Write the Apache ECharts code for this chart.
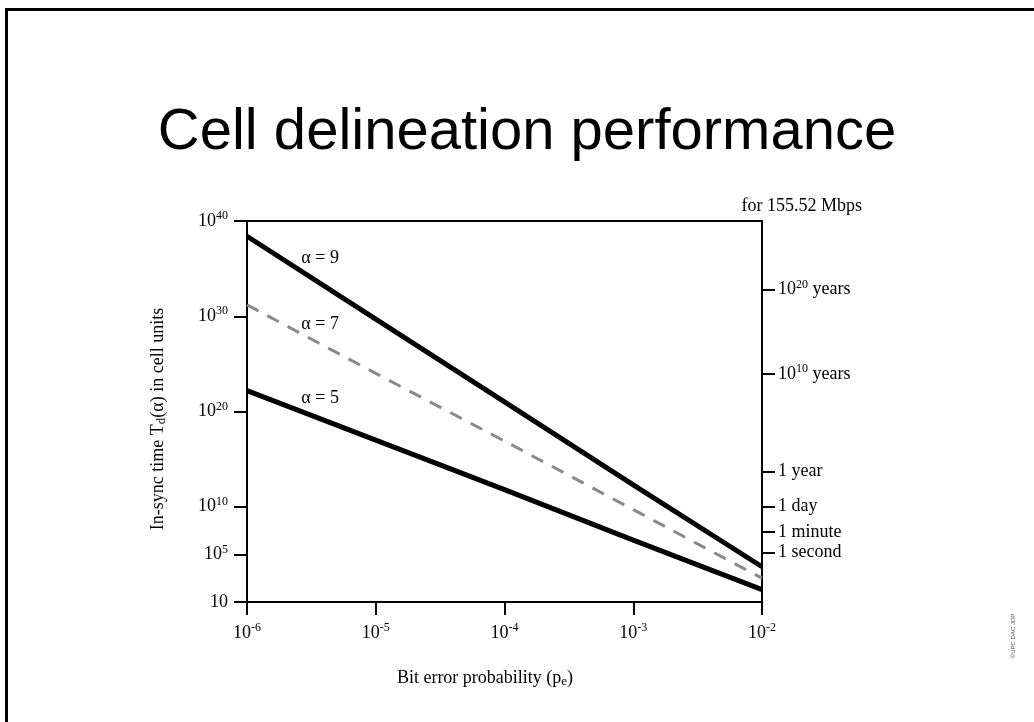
<!DOCTYPE html>
<html>
<head>
<meta charset="utf-8">
<script src="https://cdn.jsdelivr.net/npm/echarts@6/dist/echarts.min.js"></script>
<style>
html,body{margin:0;padding:0;background:#fff;}
#chart{width:1034px;height:722px;}
</style>
</head>
<body>
<div id="chart"></div>
<script>
// ---- data ----
const peValues = [1e-6, 1e-5, 1e-4, 1e-3, 1e-2];
// log10 of in-sync time (cell units)
const alpha9Log = [38.4, 29.7, 21.0, 12.3, 3.7];
const alpha7Log = [31.2, 24.0, 16.9, 9.7, 2.5];
const alpha5Log = [22.2, 17.0, 11.8, 6.5, 1.3];
const seriesNames = ['α = 9', 'α = 7', 'α = 5'];
const labelAnchors = [[3.7e-6, 36.05], [3.7e-6, 29.2], [3.7e-6, 21.35]];
const leftTickExps = [0, 5, 10, 20, 30, 40];
const leftTickLabels = ['10', '10^5', '10^10', '10^20', '10^30', '10^40'];
const rightTickExps = [32.8, 23.95, 13.7, 10.0, 7.35, 5.2];
const rightTickLabels = ['10^20 years', '10^10 years', '1 year', '1 day', '1 minute', '1 second'];

const SERIF = 'Liberation Serif, Times New Roman, serif';
const STEP = 0.05;
const catData = [];
for (let i = 0; i <= 800; i++) catData.push((i * STEP).toFixed(2));

function findIdx(list, v) {
  const x = parseFloat(v);
  for (let i = 0; i < list.length; i++) if (Math.abs(list[i] - x) < STEP / 2) return i;
  return -1;
}
function toRich(s) {
  const m = s.match(/^(\d+)\^(-?\d+)(.*)$/);
  if (!m) return '{b|' + s + '}';
  return '{b|' + m[1] + '}{sup|' + m[2] + '}' + (m[3] ? '{b|' + m[3] + '}' : '');
}
const richStyles = {
  b: {fontFamily: SERIF, fontSize: 18, color: '#000'},
  sup: {fontFamily: SERIF, fontSize: 12, color: '#000', padding: [0, 0, 10, 0]}
};

const chart = echarts.init(document.getElementById('chart'), null, {renderer: 'canvas'});

const lineStyles = [
  {color: '#000', width: 5, type: 'solid'},
  {color: '#8a8a8a', width: 3, type: [13, 10]},
  {color: '#000', width: 5, type: 'solid'}
];
const logs = [alpha9Log, alpha7Log, alpha5Log];

const option = {
  backgroundColor: '#fff',
  animation: false,
  grid: {left: 247, right: 272, top: 221, bottom: 120, show: true, borderColor: '#000', borderWidth: 2, backgroundColor: 'transparent'},
  xAxis: {
    type: 'log', logBase: 10, min: 1e-6, max: 1e-2,
    axisLine: {lineStyle: {color: '#000', width: 2}},
    axisTick: {length: 13, lineStyle: {color: '#000', width: 2}},
    splitLine: {show: false},
    minorTick: {show: false},
    axisLabel: {
      margin: 20,
      formatter: function (v) { return toRich('10^' + Math.round(Math.log10(v))); },
      rich: richStyles
    }
  },
  yAxis: [
    {
      type: 'category', position: 'left', data: catData, boundaryGap: false,
      axisLine: {lineStyle: {color: '#000', width: 2}},
      axisTick: {length: 13, lineStyle: {color: '#000', width: 2},
        interval: function (i, v) { return findIdx(leftTickExps, v) >= 0; }},
      axisLabel: {
        margin: 19,
        interval: function (i, v) { return findIdx(leftTickExps, v) >= 0; },
        formatter: function (v) { const k = findIdx(leftTickExps, v); return k >= 0 ? toRich(leftTickLabels[k]) : ''; },
        rich: richStyles
      },
      splitLine: {show: false}
    },
    {
      type: 'category', position: 'right', data: catData, boundaryGap: false,
      axisLine: {lineStyle: {color: '#000', width: 2}},
      axisTick: {length: 13, lineStyle: {color: '#000', width: 2},
        interval: function (i, v) { return findIdx(rightTickExps, v) >= 0; }},
      axisLabel: {
        margin: 16,
        interval: function (i, v) { return findIdx(rightTickExps, v) >= 0; },
        formatter: function (v) { const k = findIdx(rightTickExps, v); return k >= 0 ? toRich(rightTickLabels[k]) : ''; },
        rich: richStyles
      },
      splitLine: {show: false}
    },
    {type: 'value', min: 0, max: 40, show: false}
  ],
  series: logs.map(function (arr, s) {
    return {
      type: 'line', name: seriesNames[s], yAxisIndex: 2, xAxisIndex: 0,
      data: peValues.map(function (p, i) { return [p, arr[i]]; }),
      showSymbol: false, symbol: 'none',
      lineStyle: lineStyles[s],
      markPoint: {
        symbol: 'circle', symbolSize: 0,
        label: {show: true, position: 'inside', formatter: seriesNames[s], fontFamily: SERIF, fontSize: 18, color: '#000'},
        data: [{coord: labelAnchors[s]}]
      }
    };
  }),
  graphic: [
    {type: 'rect', shape: {x: 6.5, y: 9.5, width: 1200, height: 900}, style: {fill: 'none', stroke: '#000', lineWidth: 3}, silent: true},
    {type: 'text', x: 527, y: 133, style: {text: 'Cell delineation performance', font: '58px Liberation Sans, Arial, sans-serif', fill: '#000', textAlign: 'center', textVerticalAlign: 'middle'}},
    {type: 'text', x: 862, y: 206, style: {text: 'for 155.52 Mbps', font: '18px ' + SERIF, fill: '#000', textAlign: 'right', textVerticalAlign: 'middle'}},
    {type: 'text', x: 485, y: 678, style: {text: '{b|Bit error probability (p}{sub|e}{b|)}', fill: '#000', textAlign: 'center', textVerticalAlign: 'middle',
      rich: {b: {fontFamily: SERIF, fontSize: 18}, sub: {fontFamily: SERIF, fontSize: 13, padding: [8, 0, 0, 0]}}}},
    {type: 'text', x: 158, y: 419, rotation: Math.PI / 2, style: {text: '{b|In-sync time T}{sub|d}{b|(α) in cell units}', fill: '#000', textAlign: 'center', textVerticalAlign: 'middle',
      rich: {b: {fontFamily: SERIF, fontSize: 18}, sub: {fontFamily: SERIF, fontSize: 13, padding: [8, 0, 0, 0]}}}},
    {type: 'text', x: 1013, y: 636, rotation: Math.PI / 2, style: {text: '©UPC DAC JDP', font: '6px Liberation Sans, Arial, sans-serif', fill: '#555', textAlign: 'center', textVerticalAlign: 'middle'}}
  ]
};
chart.setOption(option);
</script>
</body>
</html>
